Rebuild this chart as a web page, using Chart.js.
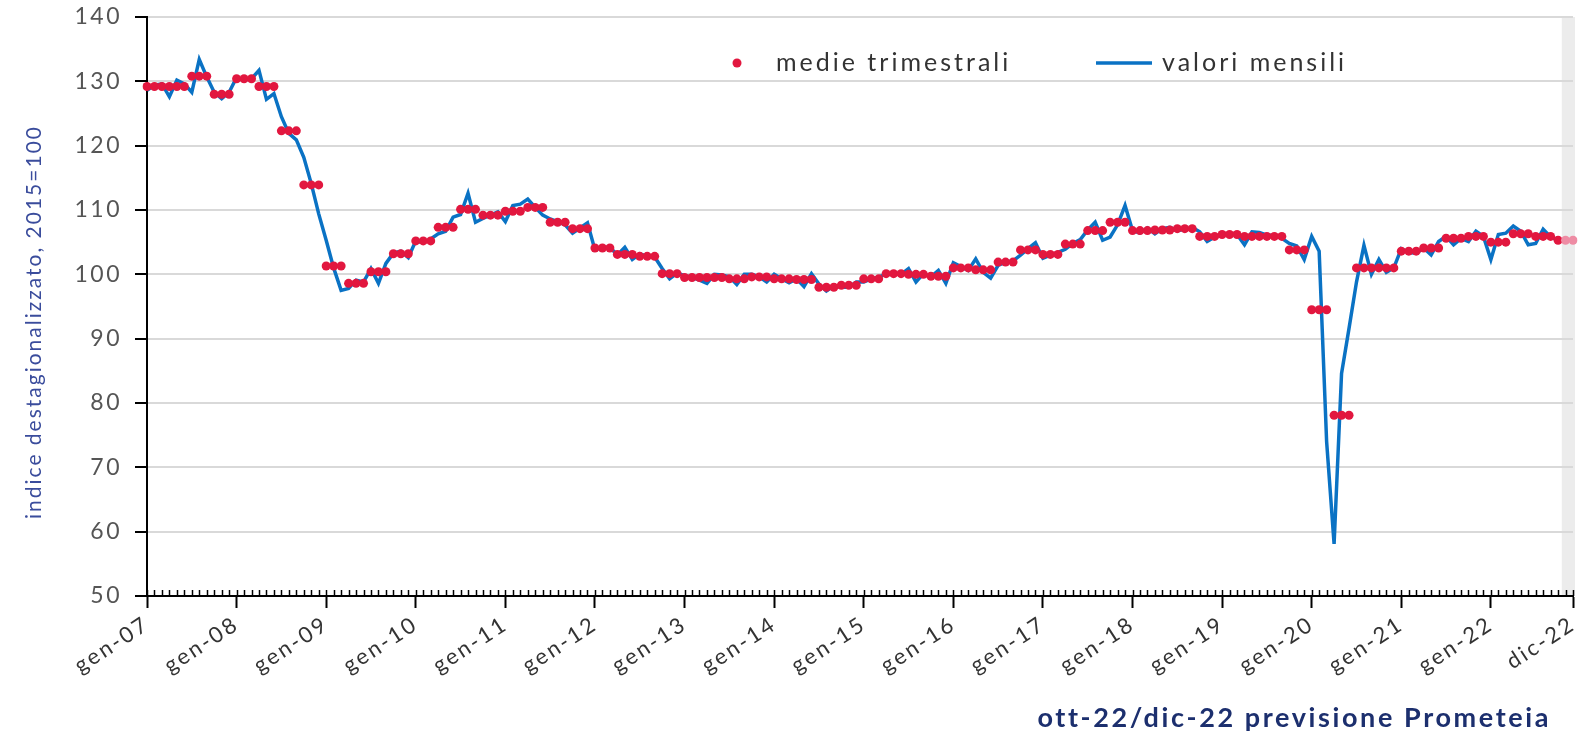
<!DOCTYPE html>
<html>
<head>
<meta charset="utf-8">
<script src="https://cdn.jsdelivr.net/npm/chart.js@4.4.1/dist/chart.umd.min.js"></script>
<style>
  html, body { margin: 0; padding: 0; background: #ffffff; }
  #wrap { width: 1584px; height: 735px; }
</style>
</head>
<body>
<div id="wrap"><canvas id="c" width="1584" height="735"></canvas></div>
<script>
// ---- categories ----
const MONTH_NAMES = ['gen','feb','mar','apr','mag','giu','lug','ago','set','ott','nov','dic'];
const YEARS = ['07','08','09','10','11','12','13','14','15','16','17','18','19','20','21','22'];

// ---- monthly values (valori mensili) ----
const m2007 = [128.6, 129.4, 129.6, 127.6, 130.2, 129.6, 128.3, 133.4, 130.7, 128.3, 127.3, 128.3];
const m2008 = [130.6, 130.2, 130.4, 131.7, 127.2, 128.1, 124.5, 121.9, 120.9, 118.2, 114.1, 109.4];
const m2009 = [105.3, 101.0, 97.5, 97.8, 99.1, 98.8, 100.9, 98.6, 101.7, 103.3, 103.6, 102.6];
const m2010 = [105.2, 104.9, 105.5, 106.3, 106.7, 108.9, 109.3, 112.6, 108.1, 108.7, 109.2, 109.7];
const m2011 = [108.2, 110.7, 110.9, 111.7, 110.4, 109.2, 108.6, 108.2, 107.7, 106.4, 107.2, 108.0];
const m2012 = [103.8, 104.2, 104.2, 103.0, 104.2, 102.3, 103.2, 102.8, 102.7, 100.9, 99.3, 100.2];
const m2013 = [99.8, 99.5, 99.1, 98.6, 100.0, 99.9, 99.6, 98.4, 100.0, 100.0, 99.6, 98.8];
const m2014 = [100.0, 99.3, 98.7, 99.3, 98.1, 100.1, 98.5, 97.4, 98.2, 98.0, 98.0, 98.8];
const m2015 = [98.8, 99.3, 99.6, 100.0, 100.3, 100.0, 100.9, 98.8, 100.1, 99.6, 100.6, 98.6];
const m2016 = [101.8, 101.2, 100.6, 102.4, 100.3, 99.4, 101.4, 101.9, 102.1, 103.0, 104.0, 104.9];
const m2017 = [102.5, 103.0, 103.4, 103.9, 104.8, 105.4, 106.9, 108.1, 105.3, 105.8, 107.7, 110.7];
const m2018 = [106.8, 106.4, 107.2, 106.3, 107.1, 107.3, 106.8, 107.0, 107.3, 106.6, 105.1, 105.8];
const m2019 = [106.2, 106.4, 106.2, 104.6, 106.6, 106.5, 106.1, 106.0, 105.6, 104.8, 104.4, 102.3];
const m2020 = [105.9, 103.6, 74.0, 58.1, 84.6, 91.6, 98.8, 104.5, 100.0, 102.3, 100.3, 101.0];
const m2021 = [104.0, 103.4, 103.3, 104.1, 103.0, 105.1, 105.9, 104.6, 105.6, 105.1, 106.7, 105.9];
const m2022 = [102.3, 106.2, 106.4, 107.5, 106.7, 104.6, 104.8, 107.0, 105.8, 105.3, null, null];

// ---- quarterly averages (medie trimestrali), 4 per year ----
const quarterly = [
  129.2, 129.2, 130.8, 128.0,
  130.4, 129.2, 122.3, 113.9,
  101.3, 98.6, 100.4, 103.2,
  105.2, 107.3, 110.1, 109.2,
  109.8, 110.4, 108.1, 107.1,
  104.1, 103.1, 102.8, 100.1,
  99.5, 99.5, 99.3, 99.6,
  99.3, 99.2, 98.0, 98.3,
  99.3, 100.1, 100.0, 99.7,
  101.0, 100.7, 101.9, 103.8,
  103.1, 104.7, 106.8, 108.1,
  106.8, 106.9, 107.1, 105.9,
  106.2, 105.9, 105.9, 103.8,
  94.5, 78.1, 101.0, 101.0,
  103.6, 104.1, 105.6, 105.9,
  105.0, 106.3, 105.9, 105.3
];

// ---- y tick values ----
const Y_MIN = 50, Y_MAX = 140, Y_STEP = 10;
const Y_TITLE = 'indice destagionalizzato, 2015=100';

const FORECAST_START = 190; // first month drawn as forecast (pink)

// ---- build what the library needs ----
const labels = [];
YEARS.forEach(y => MONTH_NAMES.forEach(m => labels.push(m + '-' + y)));
const monthly = [].concat(m2007, m2008, m2009, m2010, m2011, m2012, m2013, m2014,
                          m2015, m2016, m2017, m2018, m2019, m2020, m2021, m2022);
const quarterlyByMonth = [];
quarterly.forEach(q => { quarterlyByMonth.push(q, q, q); });
const LAST = labels.length - 1;

const RED = '#e2173f';
const PINK = '#ee8ca4';
const BLUE = '#0a72c4';

const FONT = 'Lato, "DejaVu Sans", sans-serif';
const SPACING = '2.5px';

const spacingPlugin = {
  id: 'spacing',
  beforeUpdate(chart) { chart.ctx.letterSpacing = SPACING; },
  beforeDraw(chart) { chart.ctx.letterSpacing = SPACING; }
};

const bandPlugin = {
  id: 'band',
  beforeDraw(chart) {
    const ctx = chart.ctx, x = chart.scales.x, a = chart.chartArea;
    const x0 = (x.getPixelForValue(FORECAST_START - 1) + x.getPixelForValue(FORECAST_START)) / 2;
    ctx.save();
    ctx.fillStyle = '#ececec';
    ctx.fillRect(x0, a.top, a.right - x0 + 2, a.bottom - a.top);
    ctx.restore();
  }
};

const extrasPlugin = {
  id: 'extras',
  afterDraw(chart) {
    const ctx = chart.ctx, x = chart.scales.x, a = chart.chartArea;
    ctx.save();
    // minor monthly ticks, inside the plot
    ctx.strokeStyle = '#000';
    ctx.lineWidth = 1.5;
    for (let i = 0; i <= LAST; i++) {
      const px = Math.round(x.getPixelForValue(i)) + 0.5;
      ctx.beginPath();
      ctx.moveTo(px, a.bottom);
      ctx.lineTo(px, a.bottom - 6);
      ctx.stroke();
    }
    // y axis title
    ctx.save();
    ctx.translate(34, 322);
    ctx.rotate(-Math.PI / 2);
    ctx.letterSpacing = '2px';
    ctx.font = '21px ' + FONT;
    ctx.fillStyle = '#3a4c9c';
    ctx.textAlign = 'center';
    ctx.textBaseline = 'middle';
    ctx.fillText(Y_TITLE, 0, 0);
    ctx.restore();
    // legend
    const ds = chart.data.datasets;
    const ly = 63;
    ctx.letterSpacing = '3px';
    ctx.font = '25px ' + FONT;
    ctx.textBaseline = 'middle';
    ctx.textAlign = 'left';
    ctx.fillStyle = RED;
    ctx.beginPath();
    ctx.arc(737, ly, 4.5, 0, Math.PI * 2);
    ctx.fill();
    ctx.fillStyle = '#333';
    ctx.fillText(ds[0].label, 776, ly);
    ctx.strokeStyle = BLUE;
    ctx.lineWidth = 3.5;
    ctx.beginPath();
    ctx.moveTo(1096, ly);
    ctx.lineTo(1152, ly);
    ctx.stroke();
    ctx.fillText(ds[1].label, 1162, ly);
    // footer
    ctx.font = 'bold 27px ' + FONT;
    ctx.letterSpacing = '2.6px';
    ctx.fillStyle = '#1c2f6e';
    ctx.textAlign = 'right';
    ctx.textBaseline = 'middle';
    ctx.fillText('ott-22/dic-22 previsione Prometeia', 1551, 718);
    ctx.restore();
  }
};

new Chart(document.getElementById('c'), {
  type: 'line',
  data: {
    labels: labels,
    datasets: [
      {
        label: 'medie trimestrali',
        data: quarterlyByMonth,
        showLine: false,
        pointRadius: 4.5,
        pointHoverRadius: 4.5,
        pointBorderWidth: 0,
        pointBackgroundColor: quarterlyByMonth.map((v, i) => i >= FORECAST_START ? PINK : RED),
        pointBorderColor: 'rgba(0,0,0,0)'
      },
      {
        label: 'valori mensili',
        data: monthly,
        borderColor: BLUE,
        borderWidth: 3.5,
        pointRadius: 0,
        tension: 0,
        spanGaps: false,
        fill: false
      }
    ]
  },
  options: {
    responsive: false,
    animation: false,
    devicePixelRatio: 1,
    layout: { padding: { top: 17, right: 11, bottom: 0, left: 20 } },
    plugins: {
      legend: { display: false },
      tooltip: { enabled: false },
      title: { display: false }
    },
    scales: {
      x: {
        type: 'category',
        offset: false,
        afterFit(scale) { scale.height = 139; scale.paddingLeft = 0; scale.paddingRight = 0; },
        border: { display: true, color: '#000', width: 2 },
        grid: {
          drawOnChartArea: false,
          drawTicks: true,
          tickLength: 12,
          tickWidth: 2,
          tickColor: ctx => (ctx.index % 12 === 0 || ctx.index === LAST) ? '#000' : 'rgba(0,0,0,0)'
        },
        ticks: {
          autoSkip: false,
          maxRotation: 33,
          minRotation: 33,
          padding: 3,
          color: '#333',
          font: { family: FONT, size: 22 },
          callback: function(value, index) {
            return (index % 12 === 0 || index === LAST) ? labels[index] : '';
          }
        }
      },
      y: {
        min: Y_MIN,
        max: Y_MAX,
        afterFit(scale) { scale.width = 127; scale.paddingTop = 0; scale.paddingBottom = 0; },
        border: { display: true, color: '#000', width: 2 },
        grid: {
          color: '#d9d9d9',
          lineWidth: 2,
          tickColor: '#000',
          tickLength: 12,
          tickWidth: 2
        },
        ticks: {
          stepSize: Y_STEP,
          padding: 13,
          color: '#555',
          font: { family: FONT, size: 23 }
        },
        title: { display: false }
      }
    }
  },
  plugins: [spacingPlugin, bandPlugin, extrasPlugin]
});
</script>
</body>
</html>
